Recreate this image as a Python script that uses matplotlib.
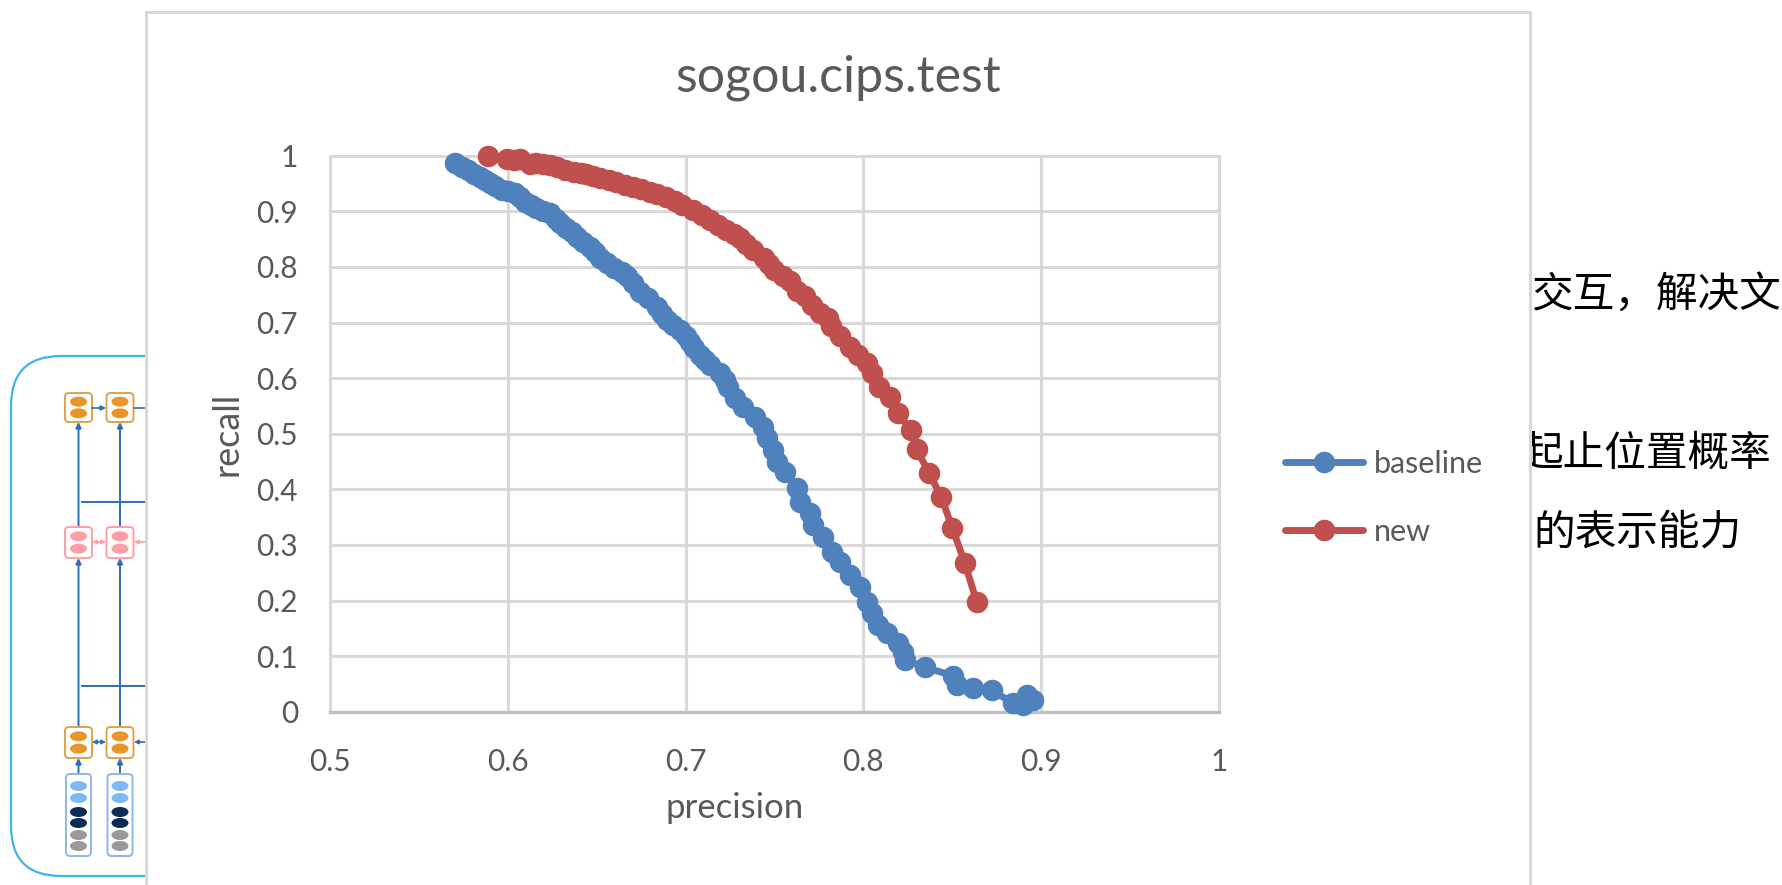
import matplotlib
matplotlib.use("Agg")
import matplotlib.pyplot as plt
from matplotlib.patches import Rectangle, FancyBboxPatch, Ellipse
from matplotlib.ticker import FuncFormatter

plt.rcParams['font.family'] = ['Lato', 'Noto Sans CJK SC', 'DejaVu Sans']

# ---- data ----
baseline_precision = [0.5703, 0.5740, 0.5778, 0.5810, 0.5844, 0.5870, 0.5900, 0.5930,
                      0.5966, 0.6000, 0.6040, 0.6070, 0.6097, 0.6130, 0.6160, 0.6200,
                      0.6240, 0.6270, 0.6294, 0.6330, 0.6360, 0.6390, 0.6425, 0.6460,
                      0.6490, 0.6520, 0.6556, 0.6600, 0.6640, 0.6670, 0.6706, 0.6744,
                      0.6790, 0.6838, 0.6870, 0.6894, 0.6930, 0.6969, 0.7000, 0.7025,
                      0.7050, 0.7081, 0.7110, 0.7137, 0.7193, 0.7220, 0.7240, 0.7278,
                      0.7325, 0.7390, 0.7437, 0.7456, 0.7493, 0.7512, 0.7559, 0.7625,
                      0.7643, 0.7700, 0.7719, 0.7775, 0.7822, 0.7868, 0.7925, 0.7980,
                      0.8018, 0.8046, 0.8084, 0.8130, 0.8196, 0.8225, 0.8234, 0.8347,
                      0.8506, 0.8525, 0.8618, 0.8722, 0.8843, 0.8898, 0.8918, 0.8956]
baseline_recall = [0.9865, 0.980, 0.974, 0.968, 0.962, 0.957, 0.9505, 0.945,
                   0.9385, 0.936, 0.9325, 0.925, 0.9175, 0.911, 0.9055, 0.901,
                   0.8965, 0.887, 0.8785, 0.871, 0.8635, 0.854, 0.8455, 0.836,
                   0.8275, 0.817, 0.8067, 0.799, 0.7915, 0.784, 0.772, 0.7556,
                   0.7437, 0.7286, 0.716, 0.7047, 0.696, 0.6867, 0.676, 0.6657,
                   0.654, 0.6417, 0.632, 0.6237, 0.6088, 0.597, 0.5847, 0.5638,
                   0.5487, 0.5308, 0.5128, 0.4919, 0.4709, 0.4498, 0.4318, 0.402,
                   0.378, 0.357, 0.336, 0.315, 0.288, 0.270, 0.246, 0.225,
                   0.198, 0.177, 0.156, 0.141, 0.123, 0.108, 0.093, 0.080,
                   0.0644, 0.048, 0.042, 0.039, 0.015, 0.012, 0.030, 0.021]

new_precision = [0.5890, 0.5994, 0.6035, 0.6070, 0.6125, 0.6160, 0.6200, 0.6240,
                 0.6275, 0.6320, 0.6370, 0.6410, 0.6440, 0.6480, 0.6520, 0.6570,
                 0.6610, 0.6660, 0.6706, 0.6750, 0.6800, 0.6840, 0.6890, 0.6940,
                 0.6980, 0.7040, 0.7090, 0.7140, 0.7180, 0.7230, 0.7270, 0.7306,
                 0.7340, 0.7380, 0.7440, 0.7470, 0.7500, 0.7550, 0.7587, 0.7625,
                 0.7670, 0.7710, 0.7756, 0.7800, 0.7820, 0.7870, 0.7925, 0.7970,
                 0.8018, 0.8047, 0.8090, 0.8150, 0.8196, 0.8266, 0.8300, 0.8370,
                 0.8437, 0.8500, 0.8570, 0.8637]
new_recall = [1.000, 0.994, 0.993, 0.995, 0.986, 0.987, 0.986, 0.983,
              0.980, 0.975, 0.971, 0.969, 0.968, 0.963, 0.9595, 0.957,
              0.953, 0.948, 0.944, 0.940, 0.935, 0.931, 0.926, 0.918,
              0.911, 0.9025, 0.894, 0.8845, 0.876, 0.8665, 0.860, 0.852,
              0.842, 0.830, 0.816, 0.806, 0.795, 0.783, 0.774, 0.756,
              0.747, 0.732, 0.717, 0.708, 0.693, 0.675, 0.657, 0.642,
              0.627, 0.609, 0.585, 0.566, 0.537, 0.507, 0.472, 0.429,
              0.387, 0.331, 0.268, 0.198]

series_names = ["baseline", "new"]
x_ticks = [0.5, 0.6, 0.7, 0.8, 0.9, 1.0]
y_ticks = [0, 0.1, 0.2, 0.3, 0.4, 0.5, 0.6, 0.7, 0.8, 0.9, 1.0]
chart_title = "sogou.cips.test"
side_lines = ["交互，解决文", "起止位置概率", "的表示能力"]

BLUE = "#4F81BD"
RED = "#C0504D"
GRID = "#D9D9D9"
TXT = "#595959"

W, H = 1783, 885
fig = plt.figure(figsize=(W / 100, H / 100), dpi=100)
fig.patch.set_facecolor("white")

# ---- slide behind the chart (pixel space) ----
bg = fig.add_axes([0, 0, 1, 1], zorder=0)
bg.set_xlim(0, W)
bg.set_ylim(H, 0)
bg.axis("off")

bg.add_patch(FancyBboxPatch((11, 356), 300, 520, boxstyle="round,pad=0,rounding_size=50",
                            fill=False, ec="#3DB5EA", lw=1.6))

LINE_BLUE = "#2E6DB8"
cols = [78.5, 120]
for cx in cols:
    # boxes with two ellipses
    for (y0, y1, ec, fc) in [(393, 422, "#E0A24A", "#E8962A"),
                             (527, 558, "#FF9EA6", "#FF9EA6"),
                             (727, 758, "#E0A24A", "#E8962A")]:
        bg.add_patch(FancyBboxPatch((cx - 13.5, y0), 27, y1 - y0,
                                    boxstyle="round,pad=0,rounding_size=4",
                                    fc="white", ec=ec, lw=1.4, zorder=3))
        h = (y1 - y0)
        for k in (0.3, 0.7):
            bg.add_patch(Ellipse((cx, y0 + h * k), 17, 10, fc=fc, ec="none", zorder=4))
    # input column
    bg.add_patch(FancyBboxPatch((cx - 12.5, 774), 25, 82, boxstyle="round,pad=0,rounding_size=4",
                                fc="white", ec="#8AB8F0", lw=1.4, zorder=3))
    for yy, c in zip([786, 798, 812, 823, 835, 846],
                     ["#7DB7F7", "#7DB7F7", "#0B2C55", "#0B2C55", "#9A9A9A", "#9A9A9A"]):
        bg.add_patch(Ellipse((cx, yy), 17, 10, fc=c, ec="none", zorder=4))
    # vertical connections with arrows pointing up
    for (ya, yb) in [(527, 422), (727, 558), (774, 758)]:
        bg.annotate("", xy=(cx, yb), xytext=(cx, ya),
                    arrowprops=dict(arrowstyle="-|>", color=LINE_BLUE, lw=1.4,
                                    mutation_scale=8, shrinkA=0, shrinkB=0), zorder=2)
for yy in (502, 686):
    bg.plot([82, 200], [yy, yy], color=LINE_BLUE, lw=1.4, zorder=2)
# horizontal arrows between boxes
for xa, xb in [(92, 106), (134, 160)]:
    bg.annotate("", xy=(xb, 408), xytext=(xa, 408),
                arrowprops=dict(arrowstyle="-|>", color=LINE_BLUE, lw=1.2,
                                mutation_scale=7, shrinkA=0, shrinkB=0))
    bg.annotate("", xy=(xb, 542), xytext=(xa, 542),
                arrowprops=dict(arrowstyle="<|-|>", color="#FF9EA6", lw=1.2,
                                mutation_scale=6, shrinkA=0, shrinkB=0))
    bg.annotate("", xy=(xb, 742), xytext=(xa, 742),
                arrowprops=dict(arrowstyle="<|-|>", color=LINE_BLUE, lw=1.2,
                                mutation_scale=6, shrinkA=0, shrinkB=0))

for txt, (tx, ty) in zip(side_lines, [(1531, 295), (1522, 454), (1533, 533)]):
    bg.text(tx, ty, txt, fontsize=30, color="black", ha="left", va="center",
            family=["Noto Sans CJK SC", "DejaVu Sans"], zorder=1)

# chart panel on top of the slide
bg.add_patch(Rectangle((146, 12), 1384, 900, fc="white", ec=GRID, lw=2.2, zorder=10))

# ---- the chart ----
ax = fig.add_axes([330 / W, 1 - 711.8 / H, 889 / W, 556 / H], zorder=1)
ax.set_facecolor("white")

for px, rc, name, col in [(baseline_precision, baseline_recall, series_names[0], BLUE),
                          (new_precision, new_recall, series_names[1], RED)]:
    ax.plot(px, rc, color=col, lw=5, marker="o", ms=14.5, mec=col, mfc=col,
            label=name, clip_on=False, zorder=3, solid_capstyle="round")

ax.set_xlim(0.5, 1.0)
ax.set_ylim(0, 1.0)
ax.set_xticks(x_ticks)
ax.set_yticks(y_ticks)
fmt = FuncFormatter(lambda v, p: f"{v:g}")
ax.xaxis.set_major_formatter(fmt)
ax.yaxis.set_major_formatter(fmt)
ax.tick_params(length=0, labelsize=21.5, labelcolor=TXT)
ax.tick_params(axis="x", pad=26)
ax.tick_params(axis="y", pad=23)
ax.grid(True, color=GRID, lw=2.2)
ax.set_axisbelow(True)
for s in ("left", "top", "right"):
    ax.spines[s].set_color(GRID)
    ax.spines[s].set_linewidth(2.2)
ax.spines["bottom"].set_color("#BFBFBF")
ax.spines["bottom"].set_linewidth(2.4)

ax.set_title(chart_title, fontsize=36, color=TXT, x=(838 - 330) / 889,
             y=(711.8 - 86) / 556, va="center")
ax.set_xlabel("precision", fontsize=25, color=TXT, va="center")
ax.xaxis.set_label_coords((735 - 330) / 889, (711.8 - 808) / 556)
ax.set_ylabel("recall", fontsize=26, color=TXT, va="center")
ax.yaxis.set_label_coords((227 - 330) / 889, 0.5)

ax.legend(loc="center left", bbox_to_anchor=(1285 / W, 1 - 498 / H),
          bbox_transform=fig.transFigure, frameon=False, fontsize=22,
          labelcolor=TXT, handlelength=2.55, handletextpad=0.35,
          labelspacing=1.3, borderpad=0, borderaxespad=0)

fig.savefig("out.png", dpi=100)
